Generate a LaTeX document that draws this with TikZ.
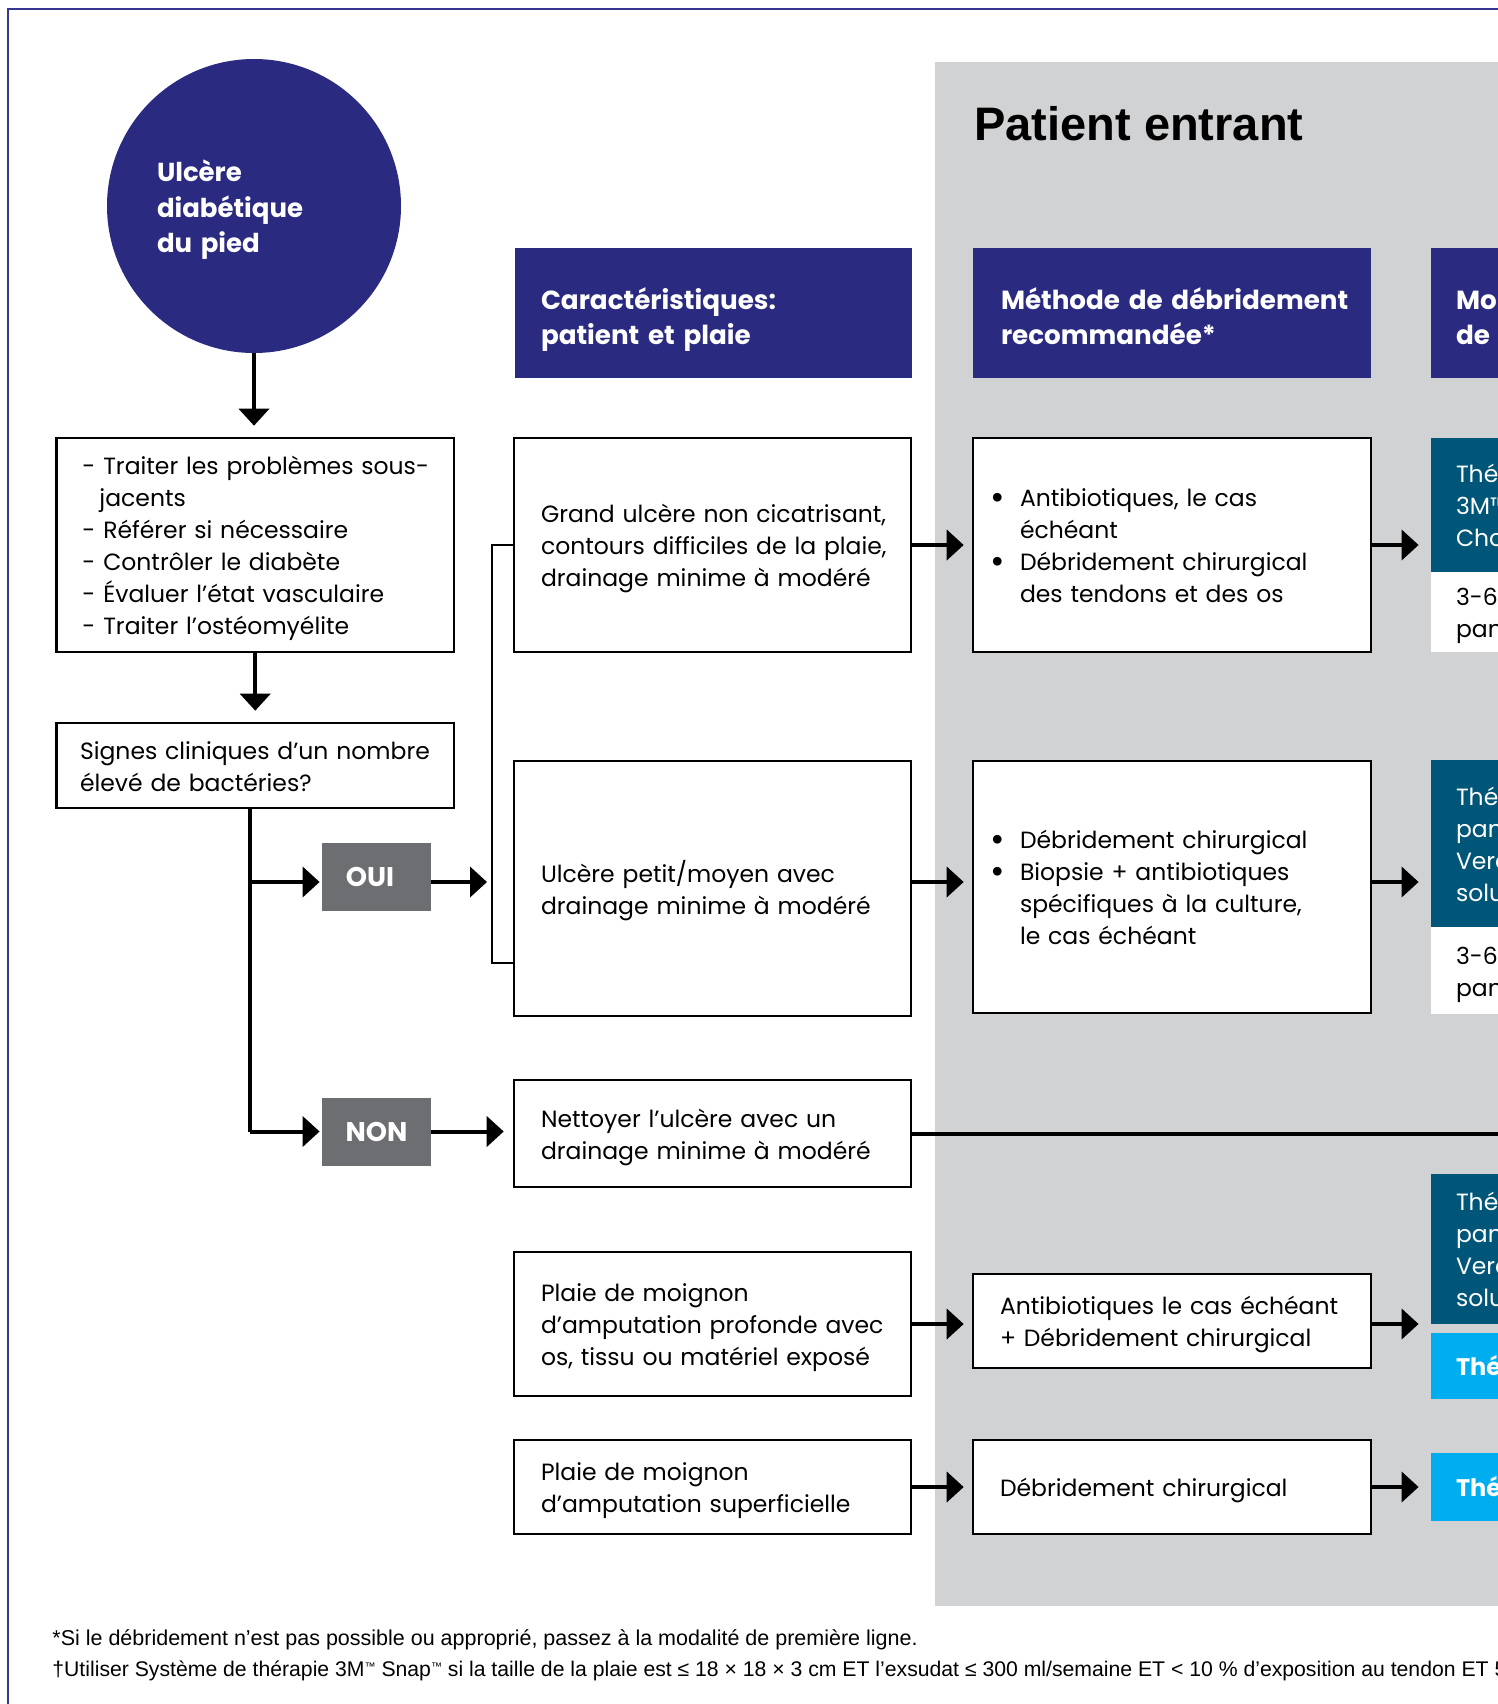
\documentclass[tikz,border=0pt]{standalone}
\usepackage{fontspec}
\setmainfont{Poppins}
\newfontfamily\lib{Liberation Sans}
\usetikzlibrary{arrows.meta,calc}
\definecolor{navy}{RGB}{42,42,128}
\definecolor{framec}{RGB}{55,55,145}
\definecolor{panel}{RGB}{209,210,212}
\definecolor{ggray}{RGB}{109,110,113}
\definecolor{tealc}{RGB}{0,86,120}
\definecolor{lblue}{RGB}{0,174,239}
\newcommand\mybul{\makebox[15pt][l]{\raisebox{-1.2pt}{\scalebox{1.5}{•}}}}
\newcommand\myind{\hspace*{15pt}}
\newcommand\tmk{\raisebox{3.2pt}{\fontsize{5.5}{6}\selectfont ™}}
\begin{document}
\begin{tikzpicture}[x=0.5pt,y=-0.5pt,
  bodyf/.style={font=\fontsize{11.75}{16}\selectfont,
    execute at begin node={\rule{0pt}{15.4pt}},
    execute at end node={\rule[-5.5pt]{0pt}{5.5pt}}},
  box/.style={draw=black, line width=1.3pt, fill=white, align=left, inner ysep=0pt, bodyf},
  hdr/.style={fill=navy, text=white, align=left, inner ysep=0pt, font=\bfseries\fontsize{13.1}{17.4}\selectfont,
    execute at begin node={\rule{0pt}{18.3pt}},
    execute at end node={\rule[-4.3pt]{0pt}{4.3pt}}},
  gbox/.style={fill=ggray, text=white, minimum width=54.5pt, minimum height=34pt, inner sep=0pt, font=\bfseries\fontsize{13.5}{16}\selectfont},
  tbox/.style={fill=tealc, text=white, align=left, minimum width=100pt, inner xsep=12.5pt, text width=75pt, inner ysep=0pt, bodyf},
  wbox/.style={fill=white, text=black, align=left, minimum width=100pt, inner xsep=12.5pt, text width=75pt, inner ysep=0pt, bodyf},
  lbox/.style={fill=lblue, text=white, align=left, minimum width=100pt, inner xsep=12.5pt, text width=75pt, inner ysep=0pt, font=\bfseries\fontsize{12}{16}\selectfont},
  arr/.style={-{Triangle[length=8.5pt,width=15pt]}, line width=2pt},
  thin/.style={line width=1.3pt},
  fat/.style={line width=2.2pt},
  fnote/.style={anchor=west, inner sep=0pt, font=\lib\fontsize{10.75}{12}\selectfont}
]
\useasboundingbox (0,0) rectangle (1498,1704);
\clip (0,0) rectangle (1498,1704);
\fill[panel] (935,62) rectangle (1510,1606);
\draw[framec, line width=1pt] (8,1710) -- (8,9) -- (1510,9);

% circle
\node[circle, fill=navy, minimum size=147pt, inner sep=0pt, text width=97pt, align=left, text=white,
  font=\bfseries\fontsize{13}{17.7}\selectfont,
  execute at begin node={\rule{0pt}{17pt}},
  execute at end node={\rule[-5.9pt]{0pt}{5.9pt}}] (c) at (254,206) {Ulcère\\diabétique\\du pied};

% left column
\node[box, minimum width=198.75pt, minimum height=107pt, inner xsep=13pt, text width=172.75pt] (b1) at (255.25,545)
 {\mbox{- Traiter les problèmes sous-}\\\mbox{\hspace*{8.5pt}jacents}\\\mbox{- Référer si nécessaire}\\\mbox{- Contrôler le diabète}\\\mbox{- Évaluer l’état vasculaire}\\\mbox{- Traiter l’ostéomyélite}};
\node[box, minimum width=198.75pt, minimum height=42.5pt, inner xsep=11.75pt, text width=175.25pt] (b2) at (255.25,765.5)
 {\mbox{Signes cliniques d’un nombre}\\\mbox{élevé de bactéries?}};
\node[gbox] (oui) at (376.5,877) {OUI\hspace*{6.5pt}};
\node[gbox] (non) at (376.5,1131.5) {NON};

% headers
\node[hdr, minimum width=198.5pt, minimum height=65pt, inner xsep=13pt, text width=172.5pt] (h1) at (713.5,313)
 {Caractéristiques:\\patient et plaie};
\node[hdr, minimum width=199pt, minimum height=65pt, inner xsep=14pt, text width=171pt] (h2) at (1172,313)
 {\mbox{Méthode de débridement}\\recommandée*};
\node[hdr, minimum width=100pt, minimum height=65pt, inner xsep=12.5pt, text width=75pt] (h3) at (1531,313)
 {Mo\\de};

\node[anchor=base west, inner sep=0pt, font=\lib\bfseries\fontsize{23.5}{28}\selectfont] (title) at (974,140) {Patient entrant};

% column 1
\node[box, minimum width=198.5pt, minimum height=107pt, inner xsep=13.5pt, text width=171.5pt] (A) at (712.5,545)
 {\mbox{Grand ulcère non cicatrisant,}\\\mbox{contours difficiles de la plaie,}\\\mbox{drainage minime à modéré}};
\node[box, minimum width=198.5pt, minimum height=127.5pt, inner xsep=13.5pt, text width=171.5pt] (B) at (712.5,888.5)
 {\mbox{Ulcère petit/moyen avec}\\\mbox{drainage minime à modéré}};
\node[box, minimum width=198.5pt, minimum height=53.5pt, inner xsep=13.5pt, text width=171.5pt] (C) at (712.5,1133.5)
 {\mbox{Nettoyer l’ulcère avec un}\\\mbox{drainage minime à modéré}};
\node[box, minimum width=198.5pt, minimum height=72pt, inner xsep=13.5pt, text width=171.5pt] (D) at (712.5,1324)
 {\mbox{Plaie de moignon}\\\mbox{d’amputation profonde avec}\\\mbox{os, tissu ou matériel exposé}};
\node[box, minimum width=198.5pt, minimum height=47pt, inner xsep=13.5pt, text width=171.5pt] (E) at (712.5,1487)
 {\mbox{Plaie de moignon}\\\mbox{d’amputation superficielle}};

% column 2
\node[box, minimum width=199pt, minimum height=107pt, inner xsep=8.5pt, text width=182pt] (F) at (1172,545)
 {\mbox{\mybul Antibiotiques, le cas}\\\mbox{\myind échéant}\\\mbox{\mybul Débridement chirurgical}\\\mbox{\myind des tendons et des os}};
\node[box, minimum width=199pt, minimum height=126pt, inner xsep=8.5pt, text width=182pt] (G) at (1172,887)
 {\mbox{\mybul Débridement chirurgical}\\\mbox{\mybul Biopsie + antibiotiques}\\\mbox{\myind spécifiques à la culture,}\\\mbox{\myind le cas échéant}};
\node[box, minimum width=199pt, minimum height=47pt, inner xsep=13.5pt, text width=172pt] (H) at (1172,1321)
 {\mbox{Antibiotiques le cas échéant}\\\mbox{+ Débridement chirurgical}};
\node[box, minimum width=199pt, minimum height=47pt, inner xsep=13.5pt, text width=172pt] (I) at (1172,1487)
 {\mbox{Débridement chirurgical}};

% column 3 (cut off by the page edge)
\node[tbox, minimum height=67pt] (t1) at (1531,505) {Thé\\3M™\\Cho};
\node[wbox, minimum height=40pt] (w1) at (1531,612) {3-6\\pan};
\node[tbox, minimum height=83.5pt] (t2) at (1531,843.5) {Thé\\pan\\Vera\\solu};
\node[wbox, minimum height=43.5pt] (w2) at (1531,970.5) {3-6\\pan};
\node[tbox, minimum height=75pt] (t3) at (1531,1249) {Thé\\pan\\Vera\\solu};
\node[lbox, minimum height=33pt] (l3) at (1531,1366) {Thé};
\node[lbox, minimum height=34pt] (l4) at (1531,1487) {Thé};

% coordinates
\coordinate (trunk) at (250,1131.5);
\coordinate (ouiy) at (0,882);
\coordinate (brk) at (492,545);
\coordinate (bbot) at (0,963);
\coordinate (hy) at (0,1324);
\coordinate (redge) at (1510,1134);

% connectors
\draw[arr, shorten >=5.5pt] (c.south) -- (c.south |- b1.north);
\draw[arr, shorten >=5.5pt] (b1.south) -- (b1.south |- b2.north);
\draw[fat] (b2.south -| trunk) -- (trunk);
\draw[arr, shorten >=1pt] (trunk) -- (non.west);
\draw[arr, shorten >=1pt] (trunk |- ouiy) -- (oui.west |- ouiy);
\draw[arr, shorten >=2.5pt] (oui.east |- ouiy) -- (brk |- ouiy);
\draw[thin] (A.west) -- (brk) -- (brk |- bbot) -- (B.west |- bbot);
\draw[arr, shorten >=4.5pt] (non.east) -- (non.east -| C.west);
\draw[line width=2pt] (C.east) -- (C.east -| redge);

\draw[arr, shorten >=4pt] (A.east) -- (F.west);
\draw[arr, shorten >=4pt] (B.east |- ouiy) -- (G.west |- ouiy);
\draw[arr, shorten >=4pt] (D.east |- hy) -- (H.west |- hy);
\draw[arr, shorten >=4pt] (E.east) -- (I.west);

\draw[arr, shorten >=6pt] (F.east) -- (F.east -| t1.west);
\draw[arr, shorten >=6pt] (G.east |- ouiy) -- (t2.west |- ouiy);
\draw[arr, shorten >=6pt] (H.east |- hy) -- (t3.west |- hy);
\draw[arr, shorten >=6pt] (I.east) -- (I.east -| l4.west);

% footnotes
\node[fnote] (fn1) at (52,1640)
 {*Si le débridement n’est pas possible ou approprié, passez à la modalité de première ligne.};
\node[fnote, font=\lib\fontsize{10.6}{12}\selectfont] (fn2) at (52,1671)
 {†Utiliser Système de thérapie 3M\tmk{} Snap\tmk{} si la taille de la plaie est ≤ 18 × 18 × 3 cm ET l’exsudat ≤ 300 ml/semaine ET < 10 \% d’exposition au tendon ET 5};
\end{tikzpicture}
\end{document}
